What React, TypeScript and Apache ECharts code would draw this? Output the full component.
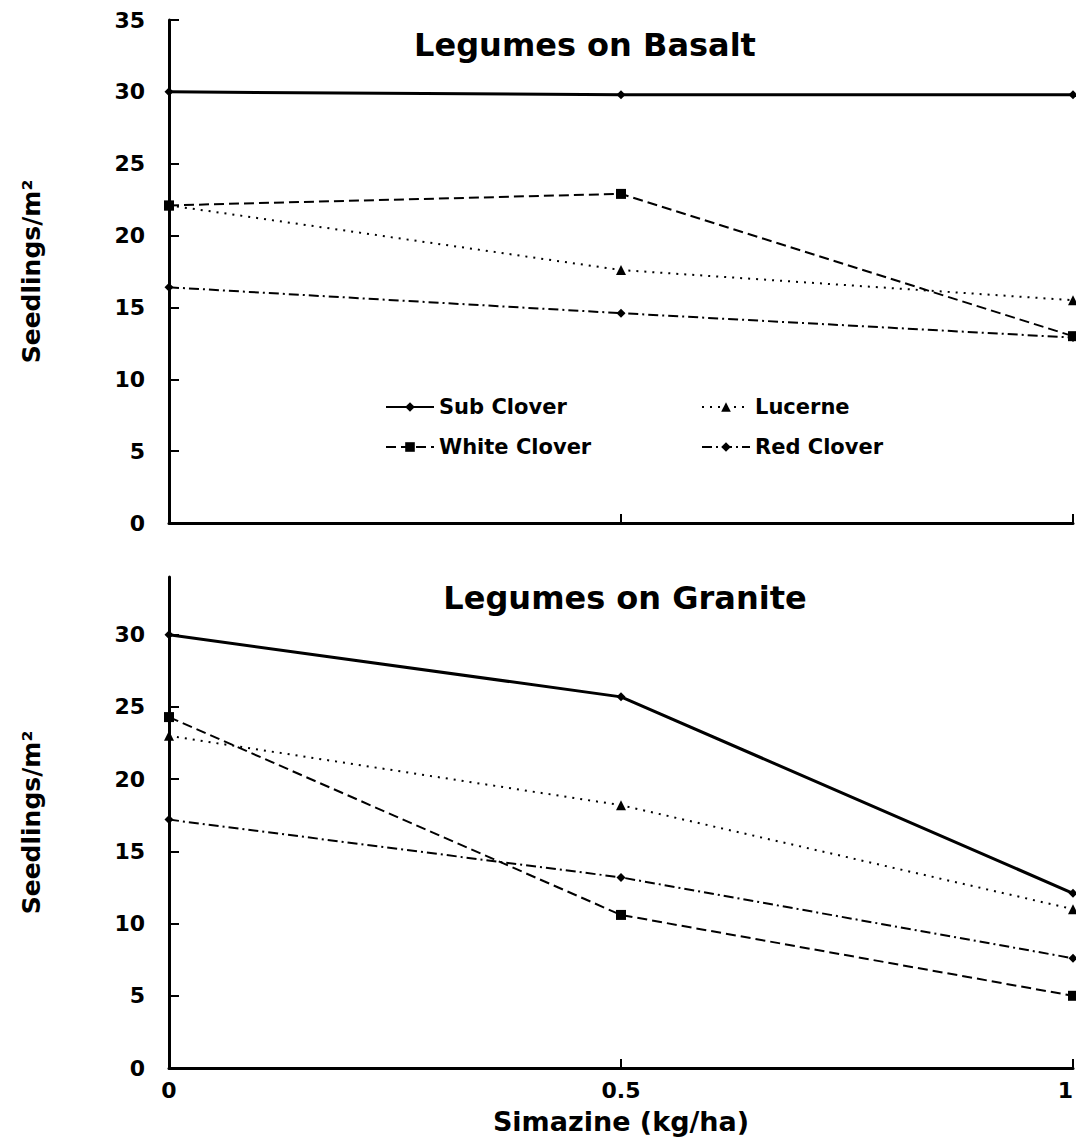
import React, { useEffect, useRef } from "react";
import * as echarts from "echarts";

const doses = [0, 0.5, 1];
const seriesNames = ["Sub Clover", "White Clover", "Lucerne", "Red Clover"];
const basaltSubClover = [30.0, 29.8, 29.8];
const basaltWhiteClover = [22.1, 22.9, 13.0];
const basaltLucerne = [22.1, 17.6, 15.5];
const basaltRedClover = [16.4, 14.6, 12.9];
const graniteSubClover = [30.0, 25.7, 12.1];
const graniteWhiteClover = [24.3, 10.6, 5.0];
const graniteLucerne = [23.0, 18.2, 11.0];
const graniteRedClover = [17.2, 13.2, 7.6];
const yTicksBasalt = [0, 5, 10, 15, 20, 25, 30, 35];
const yTicksGranite = [0, 5, 10, 15, 20, 25, 30];
const xTicks = [0, 0.5, 1];
const titles = ["Legumes on Basalt", "Legumes on Granite"];
const yAxisName = "Seedlings/m²";
const xAxisName = "Simazine (kg/ha)";

const FONT = "DejaVu Sans, Verdana, sans-serif";

const styles: Record<string, any> = {
  "Sub Clover": { symbol: "diamond", symbolSize: 9, lineStyle: { width: 3, type: "solid" } },
  "White Clover": { symbol: "rect", symbolSize: 10, lineStyle: { width: 2, type: [10, 5] } },
  Lucerne: { symbol: "triangle", symbolSize: 10, lineStyle: { width: 2, type: [2, 6] } },
  "Red Clover": { symbol: "diamond", symbolSize: 9, lineStyle: { width: 2, type: [10, 4, 2, 4] } },
};

const panels = [
  [basaltSubClover, basaltWhiteClover, basaltLucerne, basaltRedClover],
  [graniteSubClover, graniteWhiteClover, graniteLucerne, graniteRedClover],
];

export default function App() {
  const ref = useRef<HTMLDivElement>(null);
  useEffect(() => {
    if (!ref.current) return;
    const chart = echarts.init(ref.current, null, { renderer: "svg" });
    const series: any[] = [];
    panels.forEach((vals, p) => {
      vals.forEach((arr, i) => {
        const name = seriesNames[i];
        const st = styles[name];
        series.push({
          type: "line",
          name,
          xAxisIndex: p,
          yAxisIndex: p,
          data: doses.map((d, k) => [d, arr[k]]),
          symbol: st.symbol,
          symbolSize: st.symbolSize,
          showAllSymbol: true,
          itemStyle: { color: "#000" },
          lineStyle: { color: "#000", ...st.lineStyle },
          z: 3,
        });
      });
    });
    const axisLineStyle = { lineStyle: { color: "#000", width: 3 } };
    const labelStyle = { color: "#000", fontFamily: FONT, fontWeight: "bold", fontSize: 22 };
    const legendBase = {
      orient: "vertical",
      itemWidth: 48,
      itemHeight: 12,
      itemGap: 16,
      textStyle: { color: "#000", fontFamily: FONT, fontWeight: "bold", fontSize: 21, lineHeight: 24 },
    };
    const titleStyle = { color: "#000", fontFamily: FONT, fontWeight: "bold", fontSize: 32 };
    chart.setOption({
      animation: false,
      backgroundColor: "#fff",
      title: [
        { text: titles[0], left: 580, top: 24, textAlign: "center", textStyle: titleStyle },
        { text: titles[1], left: 620, top: 577, textAlign: "center", textStyle: titleStyle },
      ],
      legend: [
        { ...legendBase, left: 380, top: 390, data: ["Sub Clover", "White Clover"] },
        { ...legendBase, left: 696, top: 390, data: ["Lucerne", "Red Clover"] },
      ],
      grid: [
        { left: 169, right: 3, top: 20, height: 503, outerBoundsMode: "none" },
        { left: 169, right: 3, top: 577, height: 491, outerBoundsMode: "none" },
      ],
      xAxis: [
        {
          type: "value",
          gridIndex: 0,
          min: 0,
          max: 1,
          interval: 0.5,
          axisLine: axisLineStyle,
          axisTick: { inside: true, length: 9, lineStyle: { color: "#000", width: 2 } },
          axisLabel: { show: false },
          splitLine: { show: false },
        },
        {
          type: "value",
          gridIndex: 1,
          min: 0,
          max: 1,
          interval: 0.5,
          axisLine: axisLineStyle,
          axisTick: { inside: true, length: 9, lineStyle: { color: "#000", width: 2 } },
          axisLabel: {
            ...labelStyle,
            margin: 11,
            customValues: xTicks,
            alignMaxLabel: "right",
            formatter: (v: number) => String(v),
          },
          splitLine: { show: false },
          name: xAxisName,
          nameLocation: "middle",
          nameGap: 40,
          nameTextStyle: { color: "#000", fontFamily: FONT, fontWeight: "bold", fontSize: 27 },
        },
      ],
      yAxis: [
        {
          type: "value",
          gridIndex: 0,
          min: 0,
          max: 35,
          interval: 5,
          axisLine: axisLineStyle,
          axisTick: { inside: true, length: 10, lineStyle: { color: "#000", width: 2 }, customValues: yTicksBasalt },
          axisLabel: { ...labelStyle, margin: 24, customValues: yTicksBasalt },
          splitLine: { show: false },
          name: yAxisName,
          nameLocation: "middle",
          nameGap: 125,
          nameTextStyle: { color: "#000", fontFamily: FONT, fontWeight: "bold", fontSize: 25 },
        },
        {
          type: "value",
          gridIndex: 1,
          min: 0,
          max: 34,
          interval: 5,
          axisLine: axisLineStyle,
          axisTick: { inside: true, length: 10, lineStyle: { color: "#000", width: 2 }, customValues: yTicksGranite },
          axisLabel: { ...labelStyle, margin: 24, customValues: yTicksGranite },
          splitLine: { show: false },
          name: yAxisName,
          nameLocation: "middle",
          nameGap: 125,
          nameTextStyle: { color: "#000", fontFamily: FONT, fontWeight: "bold", fontSize: 25 },
        },
      ],
      series,
    });
    return () => chart.dispose();
  }, []);
  return <div ref={ref} style={{ width: 1076, height: 1145, position: "absolute", left: 0, top: 0 }} />;
}
